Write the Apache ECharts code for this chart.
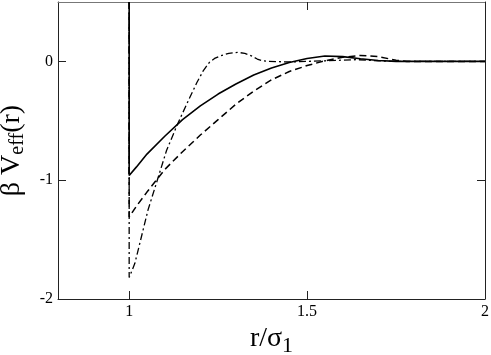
<!DOCTYPE html>
<html>
<head>
<meta charset="utf-8">
<script src="https://cdn.jsdelivr.net/npm/echarts@6/dist/echarts.min.js"></script>
<style>
  html, body { margin: 0; padding: 0; background: #fff; }
  #chart { width: 491px; height: 355px; }
</style>
</head>
<body>
<div id="chart"></div>
<script>
// r / sigma_1 and beta V_eff(r), one pair of arrays per curve
// (first point of each is the hard-core wall at r = 1, drawn up to the top of the plot)
const rSolid = [1, 1, 1.02, 1.05, 1.1, 1.15, 1.2, 1.25, 1.3, 1.35, 1.4, 1.45, 1.5, 1.55, 1.6, 1.65, 1.7, 1.75, 2]
const vSolid = [0.5, -0.96, -0.89, -0.78, -0.63, -0.49, -0.375, -0.275, -0.19, -0.115, -0.055, -0.01, 0.025, 0.045, 0.04, 0.022, 0.007, 0, 0]

const rDashed = [1, 1, 1.02, 1.05, 1.1, 1.15, 1.2, 1.25, 1.3, 1.35, 1.4, 1.45, 1.5, 1.55, 1.6, 1.65, 1.7, 1.75, 1.78, 2]
const vDashed = [0.5, -1.31, -1.22, -1.1, -0.91, -0.76, -0.62, -0.49, -0.36, -0.25, -0.155, -0.085, -0.035, 0.005, 0.035, 0.05, 0.04, 0.01, 0, 0]

const rDashDot = [1, 1, 1.016, 1.03, 1.053, 1.077, 1.105, 1.137, 1.171, 1.19, 1.208, 1.225, 1.24, 1.255, 1.28, 1.305, 1.325, 1.345, 1.36, 1.375, 1.39, 1.45, 1.55, 1.64, 1.7, 1.75, 2]
const vDashDot = [0.5, -1.82, -1.7, -1.53, -1.25, -1.02, -0.75, -0.52, -0.3, -0.18, -0.08, -0.01, 0.025, 0.045, 0.068, 0.076, 0.068, 0.045, 0.02, 0.005, 0, -0.005, 0.005, 0.015, 0.005, 0, 0]

const xTicks = [1, 1.5, 2]
const yTicks = [-2, -1, 0]

const serif = '"Liberation Serif", "DejaVu Serif", serif'
const tickColor = '#222'

const toPairs = (xs, ys) => xs.map((x, i) => [x, ys[i]])

const chart = echarts.init(document.getElementById('chart'), null, { renderer: 'canvas' })

const gridRect = { left: 58, right: 6, top: 2, bottom: 56, containLabel: false, outerBoundsMode: 'none' }

// top / right frame: axis line plus inward ticks, no labels
const frameAxis = (pos, ticks, lineColor) => ({
  type: 'value',
  position: pos,
  axisLine: { show: true, onZero: false, lineStyle: { color: lineColor, width: 1 } },
  axisTick: { show: true, inside: true, length: 8, customValues: ticks, lineStyle: { color: tickColor } },
  axisLabel: { show: false },
  splitLine: { show: false }
})

// bottom / left inward ticks: a line-less axis shifted 8px into the plot, ticks pointing back out
const tickOnlyAxis = (pos, ticks) => ({
  type: 'value',
  gridIndex: 1,
  position: pos,
  offset: -8,
  axisLine: { show: false, onZero: false },
  axisTick: { show: true, inside: false, length: 8, customValues: ticks, lineStyle: { color: tickColor } },
  axisLabel: { show: false },
  splitLine: { show: false }
})

const option = {
  animation: false,
  backgroundColor: '#fff',
  grid: [gridRect, Object.assign({}, gridRect, { show: false })],
  xAxis: [
    {
      type: 'value',
      min: 0.8,
      max: 2,
      position: 'bottom',
      axisLine: { onZero: false, lineStyle: { color: '#222', width: 1 } },
      axisTick: { show: false },
      axisLabel: { customValues: xTicks, fontFamily: serif, fontSize: 16, color: '#000', margin: 5 },
      splitLine: { show: false },
      name: '{m|r/σ}{s|1}',
      nameLocation: 'middle',
      nameGap: 20,
      nameTextStyle: {
        rich: {
          m: { fontFamily: serif, fontSize: 28, color: '#000', lineHeight: 32, verticalAlign: 'top' },
          s: { fontFamily: serif, fontSize: 22, color: '#000', lineHeight: 22, verticalAlign: 'bottom' }
        }
      }
    },
    Object.assign(frameAxis('top', xTicks, '#777'), { min: 0.8, max: 2 }),
    Object.assign(tickOnlyAxis('bottom', xTicks), { min: 0.8, max: 2 })
  ],
  yAxis: [
    {
      type: 'value',
      min: -2,
      max: 0.5,
      position: 'left',
      axisLine: { show: true, onZero: false, lineStyle: { color: '#222', width: 1 } },
      axisTick: { show: false },
      axisLabel: { customValues: yTicks, fontFamily: serif, fontSize: 16, color: '#000', margin: 5 },
      splitLine: { show: false },
      name: '{m|β V}{s|eff}{m|(r)}',
      nameLocation: 'middle',
      nameRotate: 90,
      nameGap: 30,
      nameTextStyle: {
        rich: {
          m: { fontFamily: serif, fontSize: 28, color: '#000', lineHeight: 30, verticalAlign: 'top' },
          s: { fontFamily: serif, fontSize: 20, color: '#000', lineHeight: 20, verticalAlign: 'bottom' }
        }
      }
    },
    Object.assign(frameAxis('right', yTicks, '#222'), { min: -2, max: 0.5 }),
    Object.assign(tickOnlyAxis('left', yTicks), { min: -2, max: 0.5 })
  ],
  series: [
    {
      name: 'solid',
      type: 'line',
      data: toPairs(rSolid, vSolid),
      showSymbol: false,
      clip: true,
      lineStyle: { color: '#000', width: 1.6, type: 'solid' }
    },
    {
      name: 'dashed',
      type: 'line',
      data: toPairs(rDashed, vDashed),
      showSymbol: false,
      clip: true,
      lineStyle: { color: '#000', width: 1.5, type: [7, 4] }
    },
    {
      name: 'dash-dot',
      type: 'line',
      data: toPairs(rDashDot, vDashDot),
      showSymbol: false,
      clip: true,
      lineStyle: { color: '#000', width: 1.3, type: [7, 3, 2, 3] }
    }
  ]
}

chart.setOption(option)
</script>
</body>
</html>
